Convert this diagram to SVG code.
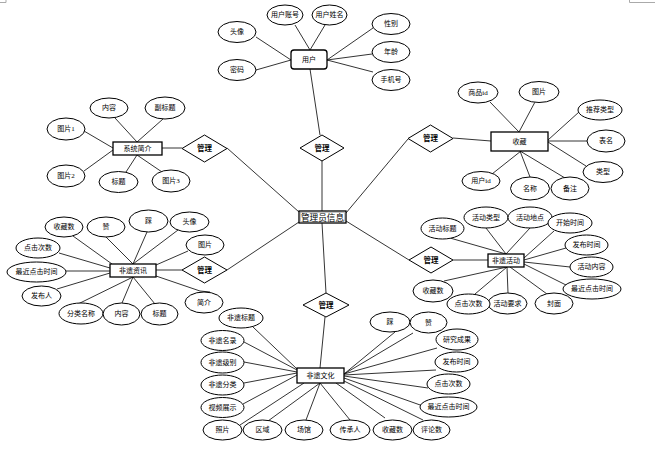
<svg xmlns="http://www.w3.org/2000/svg" width="664" height="450" viewBox="0 0 664 450">
<style>
.bg{fill:#fff}
.e{fill:#fff;stroke:#000;stroke-width:1}
.r{fill:#fff;stroke:#000;stroke-width:1.3}
.d{fill:#fff;stroke:#000;stroke-width:1}
.c line{stroke:#000;stroke-width:0.8}
text{font-family:"Liberation Serif","Noto Sans CJK SC",serif;font-size:7px;fill:#000;text-anchor:middle;dominant-baseline:central}
.b{font-weight:bold;font-size:7.5px}
.big{font-size:8.6px}
.m{stroke:#aaa;stroke-width:1;fill:none}
</style>
<rect class="bg" x="0" y="0" width="664" height="450"/>
<polyline class="m" points="0,2.5 6,2.5 6,0"/>
<polyline class="m" points="629.5,0 629.5,2.5 655,2.5"/>

<g id="connectors" class="c">
  <line x1="295" y1="25" x2="310" y2="50"/>
  <line x1="325" y1="25" x2="310" y2="50"/>
  <line x1="256" y1="37" x2="291" y2="60"/>
  <line x1="256" y1="70" x2="291" y2="60"/>
  <line x1="373" y1="28" x2="327" y2="60"/>
  <line x1="372" y1="54" x2="327" y2="60"/>
  <line x1="373" y1="72" x2="327" y2="60"/>
  <line x1="310" y1="69" x2="320" y2="135"/>
  <line x1="322" y1="161" x2="322" y2="211"/>
  <line x1="322" y1="223" x2="326" y2="293"/>
  <line x1="115" y1="118" x2="137" y2="142"/>
  <line x1="163" y1="119" x2="137" y2="142"/>
  <line x1="84" y1="131" x2="113" y2="148"/>
  <line x1="84" y1="171" x2="113" y2="150"/>
  <line x1="126" y1="172" x2="137" y2="155"/>
  <line x1="162" y1="172" x2="137" y2="155"/>
  <line x1="162" y1="148" x2="182" y2="148"/>
  <line x1="227" y1="148" x2="299" y2="212"/>
  <line x1="490" y1="102" x2="519" y2="132"/>
  <line x1="535" y1="102" x2="519" y2="132"/>
  <line x1="579" y1="112" x2="548" y2="140"/>
  <line x1="587" y1="141" x2="548" y2="141"/>
  <line x1="586" y1="166" x2="548" y2="142"/>
  <line x1="492" y1="174" x2="521" y2="151"/>
  <line x1="530" y1="177" x2="520" y2="151"/>
  <line x1="565" y1="178" x2="520" y2="151"/>
  <line x1="453" y1="138" x2="491" y2="141"/>
  <line x1="408" y1="139" x2="346" y2="213"/>
  <line x1="73" y1="236" x2="112" y2="264"/>
  <line x1="106" y1="237" x2="133" y2="264"/>
  <line x1="147" y1="232" x2="133" y2="264"/>
  <line x1="178" y1="230" x2="133" y2="264"/>
  <line x1="188" y1="251" x2="156" y2="265"/>
  <line x1="59" y1="253" x2="110" y2="268"/>
  <line x1="66" y1="271" x2="110" y2="271"/>
  <line x1="57" y1="289" x2="110" y2="273"/>
  <line x1="78" y1="304" x2="133" y2="277"/>
  <line x1="122" y1="303" x2="133" y2="277"/>
  <line x1="155" y1="304" x2="133" y2="277"/>
  <line x1="156" y1="276" x2="200" y2="291"/>
  <line x1="200" y1="291" x2="210" y2="292"/>
  <line x1="156" y1="270" x2="182" y2="270"/>
  <line x1="227" y1="270" x2="299" y2="222"/>
  <line x1="450" y1="238" x2="506" y2="254"/>
  <line x1="486" y1="228" x2="506" y2="254"/>
  <line x1="530" y1="228" x2="506" y2="254"/>
  <line x1="554" y1="231" x2="524" y2="258"/>
  <line x1="566" y1="248" x2="524" y2="260"/>
  <line x1="570" y1="267" x2="524" y2="262"/>
  <line x1="566" y1="285" x2="524" y2="264"/>
  <line x1="547" y1="294" x2="510" y2="267"/>
  <line x1="508" y1="293" x2="507" y2="267"/>
  <line x1="475" y1="294" x2="507" y2="267"/>
  <line x1="444" y1="281" x2="507" y2="267"/>
  <line x1="453" y1="260" x2="488" y2="260"/>
  <line x1="409" y1="260" x2="346" y2="221"/>
  <line x1="325" y1="317" x2="320" y2="368"/>
  <line x1="253" y1="327" x2="297" y2="369"/>
  <line x1="244" y1="342" x2="297" y2="370"/>
  <line x1="244" y1="362" x2="297" y2="372"/>
  <line x1="244" y1="383" x2="297" y2="373"/>
  <line x1="243" y1="404" x2="297" y2="375"/>
  <line x1="240" y1="425" x2="304" y2="383"/>
  <line x1="268" y1="421" x2="320" y2="383"/>
  <line x1="306" y1="420" x2="320" y2="383"/>
  <line x1="350" y1="420" x2="320" y2="383"/>
  <line x1="385" y1="418" x2="336" y2="383"/>
  <line x1="423" y1="420" x2="344" y2="381"/>
  <line x1="395" y1="332" x2="344" y2="374"/>
  <line x1="413" y1="333" x2="344" y2="374"/>
  <line x1="437" y1="348" x2="344" y2="374"/>
  <line x1="436" y1="370" x2="344" y2="375"/>
  <line x1="428" y1="388" x2="344" y2="376"/>
  <line x1="423" y1="406" x2="344" y2="378"/>
</g>

<g id="user">
  <rect class="r" x="291" y="50" width="36" height="19" rx="3"/>
  <text x="309" y="59.5">用户</text>
</g>
<g id="user-account"><ellipse class="e" cx="285" cy="15" rx="18" ry="10"/><text x="285" y="15">用户账号</text></g>
<g id="user-name"><ellipse class="e" cx="329.5" cy="15" rx="17.5" ry="10"/><text x="329.5" y="15">用户姓名</text></g>
<g id="user-avatar"><ellipse class="e" cx="237" cy="32" rx="19" ry="10.5"/><text x="237" y="32">头像</text></g>
<g id="user-pwd"><ellipse class="e" cx="237" cy="70" rx="19" ry="10.5"/><text x="237" y="70">密码</text></g>
<g id="user-sex"><ellipse class="e" cx="391" cy="24" rx="19" ry="10.5"/><text x="391" y="24">性别</text></g>
<g id="user-age"><ellipse class="e" cx="391" cy="52" rx="19" ry="10.5"/><text x="391" y="52">年龄</text></g>
<g id="user-phone"><ellipse class="e" cx="391" cy="80" rx="19" ry="10.5"/><text x="391" y="80">手机号</text></g>
<g id="rel-user"><polygon class="d" points="300,148 322,135 344,148 322,161"/><text class="b" x="322" y="148">管理</text></g>

<g id="admin">
  <rect class="r" x="299" y="211" width="47" height="12"/>
  <rect x="300.5" y="212.5" width="44" height="9" fill="none" stroke="#888" stroke-width="0.5"/>
  <text class="big" x="322.5" y="217.5">管理员信息</text>
</g>

<g id="intro">
  <rect class="r" x="113" y="142" width="49" height="13"/>
  <text x="137.5" y="148.5">系统简介</text>
</g>
<g id="intro-content"><ellipse class="e" cx="109" cy="108" rx="19" ry="10"/><text x="109" y="108">内容</text></g>
<g id="intro-subtitle"><ellipse class="e" cx="165" cy="108" rx="20" ry="11"/><text x="165" y="108">副标题</text></g>
<g id="intro-pic1"><ellipse class="e" cx="66" cy="129" rx="19" ry="11"/><text x="66" y="129">图片1</text></g>
<g id="intro-pic2"><ellipse class="e" cx="66" cy="176" rx="19" ry="11"/><text x="66" y="176">图片2</text></g>
<g id="intro-title"><ellipse class="e" cx="118.5" cy="182" rx="19.5" ry="10.5"/><text x="118.5" y="182">标题</text></g>
<g id="intro-pic3"><ellipse class="e" cx="171" cy="181" rx="19" ry="11"/><text x="171" y="181">图片3</text></g>
<g id="rel-intro"><polygon class="d" points="182,148.5 204.5,135 227,148.5 204.5,162"/><text class="b" x="204.5" y="148.5">管理</text></g>

<g id="fav">
  <rect class="r" x="491" y="132" width="57" height="19"/>
  <text x="519.5" y="141.5">收藏</text>
</g>
<g id="fav-gid"><ellipse class="e" cx="478" cy="92.5" rx="20" ry="10.5"/><text x="478" y="92.5">商品id</text></g>
<g id="fav-pic"><ellipse class="e" cx="539" cy="92" rx="20" ry="10.5"/><text x="539" y="92">图片</text></g>
<g id="fav-rectype"><ellipse class="e" cx="600" cy="110" rx="22" ry="10"/><text x="600" y="110">推荐类型</text></g>
<g id="fav-table"><ellipse class="e" cx="606" cy="141" rx="19" ry="11"/><text x="606" y="141">表名</text></g>
<g id="fav-type"><ellipse class="e" cx="603" cy="172" rx="20" ry="10.5"/><text x="603" y="172">类型</text></g>
<g id="fav-uid"><ellipse class="e" cx="481" cy="181" rx="19" ry="9.5"/><text x="481" y="181">用户id</text></g>
<g id="fav-name"><ellipse class="e" cx="530" cy="188.5" rx="19.5" ry="11.5"/><text x="530" y="188.5">名称</text></g>
<g id="fav-note"><ellipse class="e" cx="570" cy="188.5" rx="19" ry="11.5"/><text x="570" y="188.5">备注</text></g>
<g id="rel-fav"><polygon class="d" points="408,138.5 430.5,125 453,138.5 430.5,152"/><text class="b" x="430.5" y="138.5">管理</text></g>

<g id="news">
  <rect class="r" x="110" y="264" width="46" height="13"/>
  <text x="133" y="270.5">非遗资讯</text>
</g>
<g id="news-fav"><ellipse class="e" cx="64" cy="227" rx="19" ry="10"/><text x="64" y="227">收藏数</text></g>
<g id="news-like"><ellipse class="e" cx="106" cy="227" rx="19" ry="10"/><text x="106" y="227">赞</text></g>
<g id="news-dislike"><ellipse class="e" cx="148.5" cy="221" rx="19.5" ry="11"/><text x="148.5" y="221">踩</text></g>
<g id="news-avatar"><ellipse class="e" cx="189.5" cy="222" rx="19.5" ry="10"/><text x="189.5" y="222">头像</text></g>
<g id="news-pic"><ellipse class="e" cx="205" cy="245" rx="19" ry="10"/><text x="205" y="245">图片</text></g>
<g id="news-clicks"><ellipse class="e" cx="38" cy="248" rx="22" ry="10"/><text x="38" y="248">点击次数</text></g>
<g id="news-lastclick"><ellipse class="e" cx="36.5" cy="272" rx="29.5" ry="10"/><text x="36.5" y="272">最近点击时间</text></g>
<g id="news-publisher"><ellipse class="e" cx="41.5" cy="296" rx="19.5" ry="10"/><text x="41.5" y="296">发布人</text></g>
<g id="news-catname"><ellipse class="e" cx="81" cy="313.5" rx="22" ry="10.5"/><text x="81" y="313.5">分类名称</text></g>
<g id="news-content"><ellipse class="e" cx="121.5" cy="314" rx="18.5" ry="11"/><text x="121.5" y="314">内容</text></g>
<g id="news-title"><ellipse class="e" cx="159.5" cy="314" rx="18.5" ry="11"/><text x="159.5" y="314">标题</text></g>
<g id="news-summary"><ellipse class="e" cx="204" cy="302.5" rx="19" ry="10.5"/><text x="204" y="302.5">简介</text></g>
<g id="rel-news"><polygon class="d" points="182,270 204.5,257 227,270 204.5,283"/><text class="b" x="204.5" y="270">管理</text></g>

<g id="act">
  <rect class="r" x="488" y="254" width="36" height="13"/>
  <text x="506" y="260.5">非遗活动</text>
</g>
<g id="act-title"><ellipse class="e" cx="442.5" cy="228.5" rx="21.5" ry="10.5"/><text x="442.5" y="228.5">活动标题</text></g>
<g id="act-type"><ellipse class="e" cx="486" cy="217.5" rx="22" ry="10.5"/><text x="486" y="217.5">活动类型</text></g>
<g id="act-place"><ellipse class="e" cx="530" cy="217.5" rx="22" ry="10.5"/><text x="530" y="217.5">活动地点</text></g>
<g id="act-start"><ellipse class="e" cx="570" cy="223" rx="22" ry="10"/><text x="570" y="223">开始时间</text></g>
<g id="act-pubtime"><ellipse class="e" cx="586.5" cy="245" rx="21.5" ry="10"/><text x="586.5" y="245">发布时间</text></g>
<g id="act-content"><ellipse class="e" cx="591.5" cy="267" rx="21.5" ry="10"/><text x="591.5" y="267">活动内容</text></g>
<g id="act-lastclick"><ellipse class="e" cx="592" cy="289" rx="29" ry="10"/><text x="592" y="289">最近点击时间</text></g>
<g id="act-cover"><ellipse class="e" cx="554" cy="303.5" rx="19" ry="10.5"/><text x="554" y="303.5">封面</text></g>
<g id="act-req"><ellipse class="e" cx="507.5" cy="303.5" rx="19.5" ry="10.5"/><text x="507.5" y="303.5">活动要求</text></g>
<g id="act-clicks"><ellipse class="e" cx="468.5" cy="304" rx="21.5" ry="10"/><text x="468.5" y="304">点击次数</text></g>
<g id="act-fav"><ellipse class="e" cx="433" cy="291" rx="20" ry="11"/><text x="433" y="291">收藏数</text></g>
<g id="rel-act"><polygon class="d" points="409,260 431,247 453,260 431,273"/><text class="b" x="431" y="260">管理</text></g>

<g id="culture">
  <rect class="r" x="297" y="368" width="47" height="15"/>
  <text x="320.5" y="375.5">非遗文化</text>
</g>
<g id="rel-culture"><polygon class="d" points="303,305 326,293 349,305 326,317"/><text class="b" x="326" y="305">管理</text></g>
<g id="cul-title"><ellipse class="e" cx="241" cy="318" rx="22" ry="10"/><text x="241" y="318">非遗标题</text></g>
<g id="cul-list"><ellipse class="e" cx="222.5" cy="340.5" rx="21.5" ry="10"/><text x="222.5" y="340.5">非遗名录</text></g>
<g id="cul-level"><ellipse class="e" cx="222.5" cy="362.5" rx="21.5" ry="10.5"/><text x="222.5" y="362.5">非遗级别</text></g>
<g id="cul-cat"><ellipse class="e" cx="222.5" cy="385" rx="21.5" ry="10"/><text x="222.5" y="385">非遗分类</text></g>
<g id="cul-video"><ellipse class="e" cx="222.5" cy="407.5" rx="21.5" ry="10"/><text x="222.5" y="407.5">视频展示</text></g>
<g id="cul-photo"><ellipse class="e" cx="222.5" cy="430" rx="19.5" ry="10"/><text x="222.5" y="430">照片</text></g>
<g id="cul-region"><ellipse class="e" cx="262.5" cy="430" rx="19.5" ry="10"/><text x="262.5" y="430">区域</text></g>
<g id="cul-venue"><ellipse class="e" cx="304" cy="430" rx="19" ry="10"/><text x="304" y="430">场馆</text></g>
<g id="cul-heir"><ellipse class="e" cx="350" cy="430" rx="20" ry="10"/><text x="350" y="430">传承人</text></g>
<g id="cul-fav"><ellipse class="e" cx="392.5" cy="430" rx="19.5" ry="10"/><text x="392.5" y="430">收藏数</text></g>
<g id="cul-comments"><ellipse class="e" cx="431.5" cy="430" rx="18.5" ry="10"/><text x="431.5" y="430">评论数</text></g>
<g id="cul-dislike"><ellipse class="e" cx="390" cy="322" rx="20" ry="10"/><text x="390" y="322">踩</text></g>
<g id="cul-like"><ellipse class="e" cx="428.5" cy="322.5" rx="18.5" ry="10.5"/><text x="428.5" y="322.5">赞</text></g>
<g id="cul-research"><ellipse class="e" cx="457" cy="339.5" rx="21" ry="10.5"/><text x="457" y="339.5">研究成果</text></g>
<g id="cul-pubtime"><ellipse class="e" cx="456.5" cy="362" rx="21.5" ry="10"/><text x="456.5" y="362">发布时间</text></g>
<g id="cul-clicks"><ellipse class="e" cx="448.5" cy="384" rx="21.5" ry="10"/><text x="448.5" y="384">点击次数</text></g>
<g id="cul-lastclick"><ellipse class="e" cx="448.5" cy="407" rx="28.5" ry="10"/><text x="448.5" y="407">最近点击时间</text></g>
</svg>
